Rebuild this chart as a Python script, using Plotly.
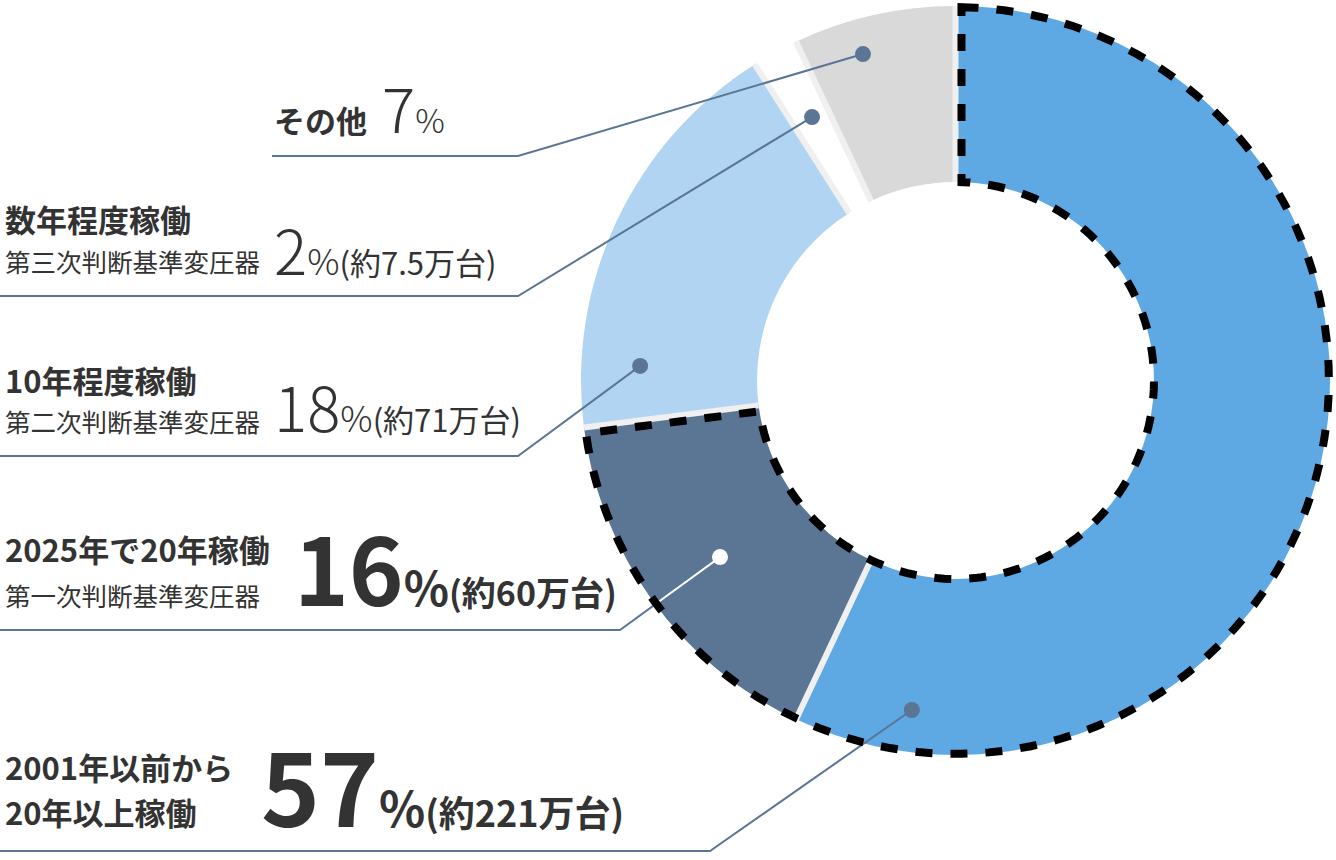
import math
import plotly.graph_objects as go

# ---------------- data ----------------
categories = ["2001年以前から20年以上稼働", "2025年で20年稼働", "10年程度稼働", "数年程度稼働", "その他"]
shares = [57, 16, 18, 2, 7]
title_lines = [["2001年以前から", "20年以上稼働"], ["2025年で20年稼働"], ["10年程度稼働"], ["数年程度稼働"], ["その他"]]
sub_labels = ["", "第一次判断基準変圧器", "第二次判断基準変圧器", "第三次判断基準変圧器", ""]
unit_labels = ["(約221万台)", "(約60万台)", "(約71万台)", "(約7.5万台)", ""]
highlighted = [True, True, False, False, False]

# ---------------- style / layout ----------------
W, H = 1336, 860
CX, CY, R = 955.5, 380.5, 374.5          # donut centre and outer radius (px)
HOLE = 0.53
slice_colors = ["#5EA8E4", "#5B7595", "#B0D4F2", "#FFFFFF", "#D9D9D9"]
SEP_COLOR, SEP_W = "#F0F0F0", 6
LEADER = "#5B7595"
TEXT = "#333333"
FONT = "Noto Sans CJK JP"

# leader dot placement: (fraction along slice, radius fraction)
dot_pos = [(0.914, 0.8875), (0.485, 0.786), (0.152, 0.843), (0.532, 0.801), (0.372, 0.906)]
dot_fill = [LEADER, "#FFFFFF", LEADER, LEADER, LEADER]
elbow_px = [(710, 851), (620, 630), (518, 456), (518, 296), (518, 156)]
rule_left_px = [0, 0, 0, 0, 272]

# text placement (px): title line baselines, sub baseline, number x / baseline
title_x = [3, 3, 3, 3, 272]
title_base = [[781, 826], [563], [394], [233], [134]]
sub_base = [None, 607, 433, 273, None]
num_x = [259, 292, 272, 272, 380]
num_base = [828, 607, 433, 276, 134]
num_size = [100, 93, 62, 62, 62]
pct_size = [48, 47, 36, 36, 33]
unit_size = [36, 34, 31, 31, 31]
num_bold = [True, True, False, False, False]
TITLE_FS, SUB_FS = 31, 25.5

# ---------------- helpers ----------------
def px_to_xy(px, py):
    return (px - CX) / R, (CY - py) / R

def polar(theta_deg, r):
    t = math.radians(theta_deg)
    return r * math.sin(t), r * math.cos(t)

total = sum(shares)
starts, ends = [], []
acc = 0.0
for v in shares:
    starts.append(acc / total * 360)
    acc += v
    ends.append(acc / total * 360)

fig = go.Figure()
fig.add_trace(go.Pie(
    values=shares, labels=categories, sort=False, direction="clockwise", rotation=0,
    hole=HOLE, textinfo="none", hoverinfo="label+percent", showlegend=False,
    marker=dict(colors=slice_colors, line=dict(color=SEP_COLOR, width=0)),
    domain=dict(x=[(CX - R) / W, (CX + R) / W], y=[1 - (CY + R) / H, 1 - (CY - R) / H]),
))
# invisible trace to set up the overlay axes
fig.add_trace(go.Scatter(x=[0], y=[0], mode="markers", marker=dict(opacity=0), hoverinfo="skip", showlegend=False))

shapes = []

# radial separators between slices
for th in starts:
    x0, y0 = polar(th, HOLE)
    x1, y1 = polar(th, 1.0)
    shapes.append(dict(type="line", xref="x", yref="y", layer="above",
                       x0=x0, y0=y0, x1=x1, y1=y1, line=dict(color=SEP_COLOR, width=SEP_W)))

# leader lines + dots
for i in range(len(shares)):
    f, rr = dot_pos[i]
    th = starts[i] + f * (ends[i] - starts[i])
    dx, dy = polar(th, rr)
    ex, ey = px_to_xy(*elbow_px[i])
    lx, ly = px_to_xy(rule_left_px[i], elbow_px[i][1])
    shapes.append(dict(type="path", xref="x", yref="y", layer="above",
                       path=f"M {dx} {dy} L {ex} {ey} L {lx} {ly}",
                       line=dict(color=LEADER, width=2)))
    if dot_fill[i] != LEADER:
        # part of the leader inside the ring is drawn in the dot colour
        ux, uy = ex - dx, ey - dy
        a = ux * ux + uy * uy
        b = 2 * (dx * ux + dy * uy)
        c = dx * dx + dy * dy - 1
        t = (-b + math.sqrt(b * b - 4 * a * c)) / (2 * a)
        shapes.append(dict(type="line", xref="x", yref="y", layer="above",
                           x0=dx, y0=dy, x1=dx + t * ux, y1=dy + t * uy,
                           line=dict(color=dot_fill[i], width=2)))
    rd = 8 / R
    shapes.append(dict(type="circle", xref="x", yref="y", layer="above",
                       x0=dx - rd, x1=dx + rd, y0=dy - rd, y1=dy + rd,
                       fillcolor=dot_fill[i], line=dict(width=0)))

# dashed outline around highlighted slices
hl = [k for k, h in enumerate(highlighted) if h]
a0, a1 = starts[hl[0]], ends[hl[-1]]
off = 6 / R
pts = []
ang_o = math.degrees(math.asin(off / 1.0))
ang_i = math.degrees(math.asin(off / HOLE))
n = 120
for k in range(n + 1):
    th = (a0 + ang_o) + (a1 - a0 - 2 * ang_o) * k / n
    pts.append(polar(th, 0.997))
for k in range(n + 1):
    th = (a1 - ang_i) - (a1 - a0 - 2 * ang_i) * k / n
    pts.append(polar(th, HOLE))
path = "M " + " L ".join(f"{x:.5f} {y:.5f}" for x, y in pts) + " Z"
shapes.append(dict(type="path", xref="x", yref="y", layer="above", path=path,
                   line=dict(color="#000000", width=8, dash="17px,18px")))

# ---------------- text ----------------
annotations = []
def add_text(html, x_px, base_px, fs_max, fs_base):
    y_bottom = base_px + 0.288 * fs_max + 1
    annotations.append(dict(x=x_px / W, y=1 - y_bottom / H, xref="paper", yref="paper",
                            xanchor="left", yanchor="bottom", showarrow=False, align="left",
                            text=html, font=dict(family=FONT, size=fs_base, color=TEXT)))

for i in range(len(shares)):
    for line, base in zip(title_lines[i], title_base[i]):
        add_text(f"<b>{line}</b>", title_x[i], base, TITLE_FS, TITLE_FS)
    if sub_labels[i]:
        add_text(sub_labels[i], 3, sub_base[i], SUB_FS, SUB_FS)
    w = "700" if num_bold[i] else "300"
    uw = "700" if num_bold[i] else "400"
    html = (f"<span style='font-size:{num_size[i]}px;font-weight:{w}'>{shares[i]}</span>"
            f"<span style='font-size:{pct_size[i]}px;font-weight:{w}'>%</span>")
    if unit_labels[i]:
        html += f"<span style='font-size:{unit_size[i]}px;font-weight:{uw}'>{unit_labels[i]}</span>"
    add_text(html, num_x[i], num_base[i], num_size[i], unit_size[i])

fig.update_layout(
    width=W, height=H, margin=dict(l=0, r=0, t=0, b=0),
    paper_bgcolor="white", plot_bgcolor="white", showlegend=False,
    xaxis=dict(range=[-CX / R, (W - CX) / R], visible=False, fixedrange=True),
    yaxis=dict(range=[(CY - H) / R, CY / R], visible=False, fixedrange=True),
    shapes=shapes, annotations=annotations,
)
fig.write_html("out.html", config={"displayModeBar": False},
               post_script="document.body.style.margin='0';document.body.style.overflow='hidden';")
